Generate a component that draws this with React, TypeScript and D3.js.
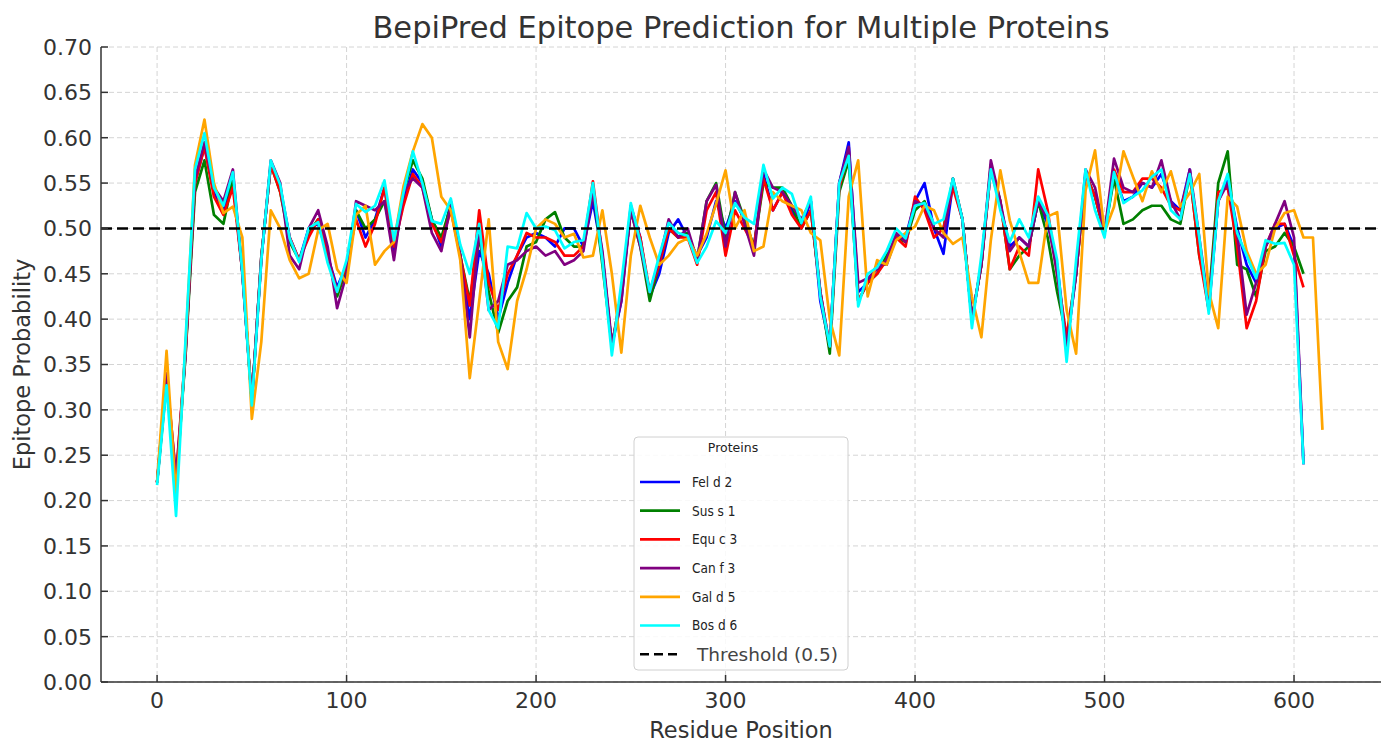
import React from "react";
import * as d3 from "d3";

// residues are sampled every STEP positions, starting at 0
const STEP = 5;

const felD2 = [
  0.22, 0.335, 0.215, 0.365, 0.55, 0.59, 0.54, 0.52, 0.555, 0.452,
  0.31, 0.468, 0.57, 0.545, 0.49, 0.465, 0.5, 0.505, 0.47, 0.435,
  0.46, 0.52, 0.49, 0.51, 0.545, 0.475, 0.53, 0.565, 0.55, 0.51,
  0.48, 0.53, 0.47, 0.4, 0.475, 0.45, 0.4, 0.44, 0.47, 0.49,
  0.495, 0.49, 0.48, 0.5, 0.5, 0.48, 0.53, 0.47, 0.37, 0.42,
  0.525, 0.49, 0.425, 0.45, 0.495, 0.51, 0.49, 0.47, 0.49, 0.53,
  0.5, 0.53, 0.51, 0.48, 0.56, 0.52, 0.54, 0.52, 0.5, 0.53,
  0.42, 0.37, 0.55, 0.595, 0.43, 0.44, 0.46, 0.46, 0.49, 0.49,
  0.53, 0.55, 0.5, 0.472, 0.55, 0.51, 0.4, 0.46, 0.565, 0.525,
  0.48, 0.49, 0.48, 0.53, 0.505, 0.46, 0.37, 0.45, 0.56, 0.535,
  0.495, 0.56, 0.53, 0.535, 0.55, 0.545, 0.56, 0.53, 0.52, 0.565,
  0.48, 0.41, 0.53, 0.555, 0.5, 0.46, 0.44, 0.48, 0.5, 0.505,
  0.48, 0.24,
];

const susS1 = [
  0.22, 0.33, 0.215, 0.36, 0.54, 0.575, 0.515, 0.505, 0.555, 0.452,
  0.31, 0.468, 0.57, 0.54, 0.485, 0.465, 0.495, 0.51, 0.47, 0.425,
  0.455, 0.52, 0.5, 0.51, 0.53, 0.48, 0.54, 0.575, 0.555, 0.51,
  0.49, 0.525, 0.47, 0.42, 0.49, 0.43, 0.385, 0.42, 0.435, 0.48,
  0.485, 0.51, 0.518, 0.49, 0.48, 0.48, 0.545, 0.46, 0.37, 0.43,
  0.52, 0.48, 0.42, 0.46, 0.5, 0.49, 0.495, 0.465, 0.53, 0.55,
  0.49, 0.54, 0.51, 0.48, 0.55, 0.545, 0.545, 0.525, 0.5, 0.52,
  0.43, 0.362, 0.54, 0.575, 0.42, 0.44, 0.45, 0.47, 0.49, 0.485,
  0.52, 0.53, 0.5, 0.5, 0.555, 0.51, 0.4, 0.46, 0.57, 0.53,
  0.455, 0.47, 0.48, 0.53, 0.49, 0.43, 0.38, 0.45, 0.56, 0.535,
  0.495, 0.555, 0.505, 0.51, 0.52, 0.525, 0.525, 0.51, 0.505, 0.56,
  0.47, 0.42, 0.55, 0.585, 0.46, 0.455, 0.425, 0.475, 0.48, 0.495,
  0.48, 0.45,
];

const equC3 = [
  0.22, 0.34, 0.225, 0.365, 0.55, 0.59, 0.535, 0.515, 0.545, 0.452,
  0.31, 0.468, 0.57, 0.54, 0.49, 0.465, 0.49, 0.51, 0.47, 0.43,
  0.46, 0.51, 0.48, 0.505, 0.545, 0.48, 0.525, 0.56, 0.545, 0.505,
  0.485, 0.52, 0.47, 0.415, 0.52, 0.44, 0.41, 0.45, 0.47, 0.495,
  0.49, 0.49, 0.485, 0.47, 0.47, 0.48, 0.552, 0.47, 0.37, 0.43,
  0.52, 0.49, 0.43, 0.46, 0.5, 0.49, 0.49, 0.46, 0.52, 0.54,
  0.47, 0.52, 0.5, 0.48, 0.555, 0.52, 0.54, 0.515, 0.5, 0.52,
  0.43, 0.37, 0.545, 0.585, 0.42, 0.44, 0.45, 0.465, 0.49, 0.48,
  0.535, 0.52, 0.49, 0.5, 0.545, 0.51, 0.4, 0.46, 0.565, 0.53,
  0.455, 0.48, 0.47, 0.565, 0.52, 0.45, 0.38, 0.45, 0.56, 0.535,
  0.495, 0.565, 0.54, 0.54, 0.555, 0.555, 0.545, 0.525, 0.52, 0.56,
  0.47, 0.41, 0.54, 0.545, 0.48, 0.39, 0.42, 0.48, 0.505, 0.505,
  0.47, 0.435,
];

const canF3 = [
  0.22, 0.34, 0.225, 0.36, 0.555, 0.595, 0.545, 0.53, 0.565, 0.45,
  0.31, 0.465, 0.575, 0.55, 0.47, 0.455, 0.5, 0.52, 0.48, 0.412,
  0.45, 0.53, 0.525, 0.52, 0.53, 0.465, 0.54, 0.555, 0.545, 0.495,
  0.475, 0.525, 0.47, 0.38, 0.5, 0.41, 0.42, 0.46, 0.465, 0.475,
  0.48, 0.47, 0.475, 0.46, 0.465, 0.475, 0.54, 0.475, 0.373, 0.42,
  0.52, 0.48, 0.43, 0.465, 0.51, 0.49, 0.5, 0.465, 0.53, 0.548,
  0.48, 0.54, 0.505, 0.47, 0.565, 0.545, 0.54, 0.525, 0.51, 0.53,
  0.43, 0.37, 0.55, 0.59, 0.44, 0.445, 0.455, 0.465, 0.495, 0.485,
  0.53, 0.525, 0.5, 0.49, 0.555, 0.51, 0.4, 0.46, 0.575, 0.53,
  0.475, 0.49, 0.48, 0.53, 0.51, 0.45, 0.37, 0.45, 0.565, 0.545,
  0.495, 0.577, 0.545, 0.54, 0.55, 0.545, 0.575, 0.53, 0.51, 0.565,
  0.49, 0.415, 0.53, 0.55, 0.495, 0.405, 0.44, 0.48, 0.505, 0.53,
  0.49, 0.24,
];

const galD5 = [
  0.22, 0.365, 0.205, 0.37, 0.57, 0.62, 0.55, 0.517, 0.524, 0.49,
  0.29, 0.375, 0.52, 0.5, 0.465, 0.445, 0.45, 0.498, 0.505, 0.455,
  0.44, 0.515, 0.525, 0.46, 0.475, 0.485, 0.546, 0.585, 0.615, 0.6,
  0.535, 0.52, 0.465, 0.335, 0.42, 0.51, 0.375, 0.345, 0.42, 0.455,
  0.5, 0.51, 0.505, 0.49, 0.494, 0.468, 0.47, 0.52, 0.45, 0.363,
  0.47, 0.525, 0.49, 0.46, 0.47, 0.484, 0.489, 0.47, 0.494, 0.527,
  0.564, 0.5, 0.52, 0.475, 0.48, 0.54, 0.53, 0.525, 0.52, 0.495,
  0.487, 0.4, 0.36, 0.535, 0.575, 0.425, 0.465, 0.46, 0.487, 0.495,
  0.502, 0.525, 0.52, 0.495, 0.483, 0.49, 0.425, 0.38, 0.487, 0.564,
  0.509, 0.474, 0.44, 0.44, 0.513, 0.518, 0.41, 0.362, 0.542, 0.586,
  0.496, 0.524, 0.585, 0.557, 0.53, 0.563, 0.54, 0.563, 0.524, 0.539,
  0.56, 0.43, 0.39, 0.535, 0.524, 0.475, 0.45, 0.46, 0.5, 0.517,
  0.52, 0.49, 0.49, 0.278,
];

const bosD6 = [
  0.217, 0.327, 0.183, 0.377, 0.565, 0.605, 0.545, 0.525, 0.562, 0.452,
  0.305, 0.465, 0.575, 0.548, 0.489, 0.463, 0.5, 0.507, 0.462, 0.43,
  0.465, 0.527, 0.518, 0.525, 0.553, 0.487, 0.539, 0.585, 0.55, 0.508,
  0.505, 0.533, 0.482, 0.45, 0.505, 0.41, 0.39, 0.48, 0.478, 0.517,
  0.5, 0.502, 0.498, 0.478, 0.485, 0.487, 0.55, 0.465, 0.36, 0.44,
  0.528, 0.485, 0.43, 0.47, 0.506, 0.495, 0.492, 0.462, 0.48, 0.508,
  0.495, 0.528, 0.512, 0.505, 0.57, 0.533, 0.545, 0.538, 0.506, 0.535,
  0.425, 0.37, 0.55, 0.58, 0.414, 0.45, 0.457, 0.475, 0.5, 0.489,
  0.525, 0.528, 0.505, 0.51, 0.555, 0.51, 0.39, 0.47, 0.565, 0.52,
  0.485, 0.51, 0.49, 0.535, 0.515, 0.465, 0.353, 0.465, 0.565, 0.52,
  0.49, 0.562, 0.528, 0.535, 0.542, 0.557, 0.565, 0.52, 0.51, 0.56,
  0.49, 0.406, 0.53, 0.56, 0.495, 0.47, 0.445, 0.487, 0.483, 0.484,
  0.46, 0.24,
];

const proteins = [
  { name: "Fel d 2", color: "blue", values: felD2 },
  { name: "Sus s 1", color: "green", values: susS1 },
  { name: "Equ c 3", color: "red", values: equC3 },
  { name: "Can f 3", color: "purple", values: canF3 },
  { name: "Gal d 5", color: "orange", values: galD5 },
  { name: "Bos d 6", color: "cyan", values: bosD6 },
];

const threshold = 0.5;
const xTicks = [0, 100, 200, 300, 400, 500, 600];
const yTicks = d3.range(0, 15).map((i) => i * 0.05);

const W = 1387;
const H = 742;
const plot = { left: 101, right: 1381, top: 47, bottom: 682 };
const font = "DejaVu Sans, sans-serif";

export default function App() {
  const x = d3.scaleLinear().domain([-29.6, 645.9]).range([plot.left, plot.right]);
  const y = d3.scaleLinear().domain([0, 0.7]).range([plot.bottom, plot.top]);
  const fmt = d3.format(".2f");

  const line = d3
    .line<number>()
    .x((_, i) => x(i * STEP))
    .y((d) => y(d));

  const legendX = 634;
  const legendY = 437;
  const rowY = (i: number) => 482 + i * 28.7;

  return (
    <div style={{ position: "absolute", left: 0, top: 0 }}>
      <svg width={W} height={H} style={{ display: "block", background: "#fff" }}>
        {/* grid */}
        <g stroke="#cfcfcf" strokeWidth={0.9} strokeDasharray="5,3">
          {xTicks.map((t) => (
            <line key={"gx" + t} x1={x(t)} x2={x(t)} y1={plot.top} y2={plot.bottom} />
          ))}
          {yTicks.map((t) => (
            <line key={"gy" + t} x1={plot.left} x2={plot.right} y1={y(t)} y2={y(t)} />
          ))}
        </g>

        {/* series */}
        <g fill="none" strokeWidth={2.7} strokeLinejoin="round">
          {proteins.map((p) => (
            <path key={p.name} d={line(p.values) ?? ""} stroke={p.color} />
          ))}
        </g>

        {/* threshold */}
        <line
          x1={plot.left}
          x2={plot.right}
          y1={y(threshold)}
          y2={y(threshold)}
          stroke="#000"
          strokeWidth={2.6}
          strokeDasharray="11,5"
        />

        {/* axes */}
        <g stroke="#333" strokeWidth={1.5}>
          <line x1={plot.left} x2={plot.left} y1={plot.top} y2={plot.bottom} />
          <line x1={plot.left} x2={plot.right} y1={plot.bottom} y2={plot.bottom} />
          {xTicks.map((t) => (
            <line key={"tx" + t} x1={x(t)} x2={x(t)} y1={plot.bottom} y2={plot.bottom - 7} />
          ))}
          {yTicks.map((t) => (
            <line key={"ty" + t} x1={plot.left} x2={plot.left + 7} y1={y(t)} y2={y(t)} />
          ))}
        </g>
        <g fontFamily={font} fontSize={22} fill="#333">
          {xTicks.map((t) => (
            <text key={"lx" + t} x={x(t)} y={708} textAnchor="middle">
              {t}
            </text>
          ))}
          {yTicks.map((t) => (
            <text key={"ly" + t} x={92} y={y(t)} dy="0.36em" textAnchor="end">
              {fmt(t)}
            </text>
          ))}
        </g>

        <text x={741} y={38} textAnchor="middle" fontFamily={font} fontSize={30.5} fill="#333">
          BepiPred Epitope Prediction for Multiple Proteins
        </text>
        <text x={741} y={738} textAnchor="middle" fontFamily={font} fontSize={22.5} fill="#333">
          Residue Position
        </text>
        <text
          transform={`translate(30,${(plot.top + plot.bottom) / 2}) rotate(-90)`}
          textAnchor="middle"
          fontFamily={font}
          fontSize={22.5}
          fill="#333"
        >
          Epitope Probability
        </text>

        {/* legend */}
        <g>
          <rect
            x={legendX}
            y={legendY}
            width={214}
            height={233}
            rx={4}
            fill="#fff"
            fillOpacity={0.85}
            stroke="#d0d0d0"
            strokeWidth={1}
          />
          <text x={733} y={452} textAnchor="middle" fontFamily={font} fontSize={12.5} fill="#222">
            Proteins
          </text>
          {proteins.map((p, i) => (
            <g key={"leg" + p.name}>
              <line x1={640} x2={680} y1={rowY(i)} y2={rowY(i)} stroke={p.color} strokeWidth={2.7} />
              <text
                x={692}
                y={rowY(i)}
                dy="0.36em"
                fontFamily="DejaVu Sans Condensed, DejaVu Sans, sans-serif"
                fontSize={13.5}
                fill="#222"
              >
                {p.name}
              </text>
            </g>
          ))}
          <line
            x1={640}
            x2={680}
            y1={rowY(6)}
            y2={rowY(6)}
            stroke="#000"
            strokeWidth={2.6}
            strokeDasharray="9,5"
          />
          <text x={697} y={rowY(6)} dy="0.36em" fontFamily={font} fontSize={18.5} fill="#444">
            Threshold (0.5)
          </text>
        </g>
      </svg>
    </div>
  );
}
